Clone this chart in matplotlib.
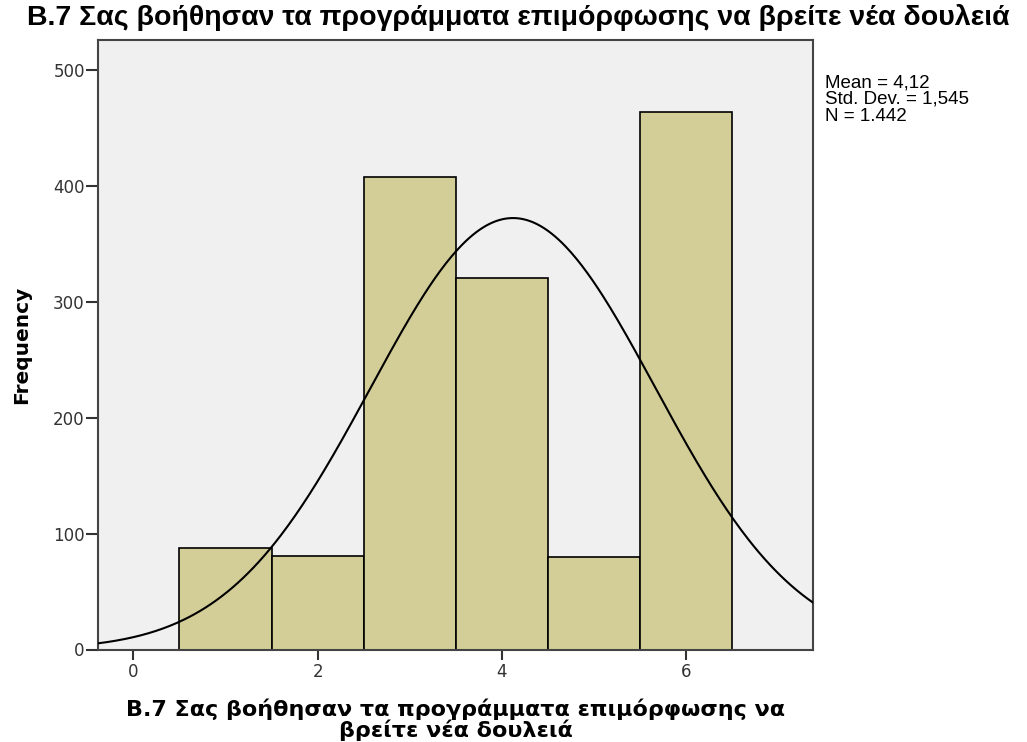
import numpy as np
import matplotlib.pyplot as plt

# histogram data (SPSS output)
centers = [1, 2, 3, 4, 5, 6]
counts = [88, 81, 408, 321, 80, 464]
mean_val = 4.12
sd_val = 1.545
n_val = 1442

title = "Β.7 Σας βοήθησαν τα προγράμματα επιμόρφωσης να βρείτε νέα δουλειά"
xlab = "Β.7 Σας βοήθησαν τα προγράμματα επιμόρφωσης να\nβρείτε νέα δουλειά"

fig = plt.figure(figsize=(10.27, 7.42), dpi=100)
ax = fig.add_axes([98 / 1027, 1 - 649.5 / 742, (813 - 98) / 1027, (649.5 - 40) / 742])
ax.set_facecolor("#f0f0f0")

ax.bar(centers, counts, width=1.0, color="#d3ce97", edgecolor="black", linewidth=1.2, zorder=2)

# normal curve from the shown mean / sd / N (bin width 1)
xs = np.linspace(-0.383, 7.375, 400)
ys = n_val * np.exp(-0.5 * ((xs - mean_val) / sd_val) ** 2) / (sd_val * np.sqrt(2 * np.pi))
ax.plot(xs, ys, color="black", linewidth=1.5, zorder=3)

ax.set_xlim(-0.383, 7.375)
ax.set_ylim(0, 526)
ax.set_xticks([0, 2, 4, 6])
ax.set_yticks([0, 100, 200, 300, 400, 500])
ax.tick_params(direction="out", width=1.5, color="#333333", labelcolor="#333333",
               labelsize=12)
ax.tick_params(axis="y", length=8.5, pad=1)
ax.tick_params(axis="x", length=7, pad=3)
for s in ax.spines.values():
    s.set_color("#444444")
    s.set_linewidth(1.5)

ax.set_ylabel("Frequency", fontsize=14.5, fontweight="bold", labelpad=16)
ax.set_xlabel(xlab, fontsize=16, fontweight="bold", labelpad=12, linespacing=1.0)

fig.text(0.026, 0.976, title, fontsize=20.5, fontweight="bold", family="Liberation Sans",
         ha="left", va="center")

fig.text(825 / 1027, 1 - 74 / 742,
         f"Mean = 4,12\nStd. Dev. = 1,545\nN = 1.442",
         fontsize=13.5, family="Liberation Sans", ha="left", va="top", linespacing=1.0)

fig.savefig("out.png", dpi=100)
